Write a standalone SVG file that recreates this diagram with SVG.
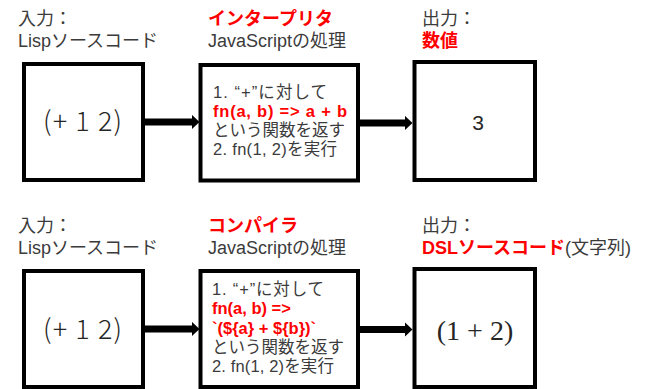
<svg xmlns="http://www.w3.org/2000/svg" width="651" height="389" viewBox="0 0 651 389">
<style>
text{font-family:"Liberation Sans","Noto Sans CJK JP",sans-serif;fill:#3b3b3b}
.lbl{font-size:18px}
.red{fill:#ff0000;font-weight:bold}
.body{font-size:16.5px}
.box{fill:#fff;stroke:#000;stroke-width:4}
.big{font-family:"Noto Sans CJK JP",sans-serif;font-size:27px;font-weight:300;fill:#262626}
.arr{stroke:#000;stroke-width:7;fill:none;marker-end:url(#ah)}
</style>
<defs>
<marker id="ah" markerUnits="userSpaceOnUse" markerWidth="8" markerHeight="15" viewBox="0 0 8 15" refX="0.5" refY="7.5" orient="auto">
<path d="M0,0 L8,7.5 L0,15 z" fill="#000"/>
</marker>
</defs>
<rect width="651" height="389" fill="#fff"/>

<g id="labels-top">
<text class="lbl"><tspan x="18" y="24.5">入力：</tspan><tspan x="18" y="46.5">Lispソースコード</tspan></text>
<text class="lbl"><tspan class="red" x="208" y="24.5">インタープリタ</tspan><tspan x="208" y="46.5">JavaScriptの処理</tspan></text>
<text class="lbl"><tspan x="422" y="24.5">出力：</tspan><tspan class="red" x="422" y="46.5">数値</tspan></text>
</g>

<g id="labels-bottom">
<text class="lbl"><tspan x="18" y="231.5">入力：</tspan><tspan x="18" y="253.5">Lispソースコード</tspan></text>
<text class="lbl"><tspan class="red" x="208" y="231.5">コンパイラ</tspan><tspan x="208" y="253.5">JavaScriptの処理</tspan></text>
<text class="lbl"><tspan x="422" y="231.5">出力：</tspan><tspan class="red" x="422" y="253.5">DSLソースコード</tspan><tspan>(文字列)</tspan></text>
</g>

<g id="connectors">
<path class="arr" d="M145,122 H192"/>
<path class="arr" d="M360,123 H405"/>
<path class="arr" d="M145,329 H192"/>
<path class="arr" d="M360,329.5 H405"/>
</g>

<g id="top-input">
<rect class="box" x="24" y="64" width="119" height="116"/>
<text class="big" x="43" y="131" textLength="79" lengthAdjust="spacing">(+ 1 2)</text>
</g>

<g id="top-interpreter">
<rect class="box" x="200.5" y="65" width="157.5" height="115.5"/>
<text class="body"><tspan x="213" y="98" textLength="114" lengthAdjust="spacing">1. “+”に対して</tspan><tspan class="red" x="213" y="117" textLength="134" lengthAdjust="spacing">fn(a, b) =&gt; a + b</tspan><tspan x="213" y="136">という関数を返す</tspan><tspan x="213" y="155" textLength="124" lengthAdjust="spacing">2. fn(1, 2)を実行</tspan></text>
</g>

<g id="top-output">
<rect class="box" x="414.5" y="62" width="120.5" height="118"/>
<text x="478" y="130" text-anchor="middle" style="font-size:21px;fill:#262626">3</text>
</g>

<g id="bottom-input">
<rect class="box" x="24" y="271" width="119" height="116"/>
<text class="big" x="43" y="338.5" textLength="79" lengthAdjust="spacing">(+ 1 2)</text>
</g>

<g id="bottom-compiler">
<rect class="box" x="200.5" y="271" width="157.5" height="116"/>
<text class="body"><tspan x="212" y="294.5" textLength="112" lengthAdjust="spacing">1. “+”に対して</tspan><tspan class="red" x="212" y="314">fn(a, b) =&gt;</tspan><tspan class="red" x="212" y="333.5">`(${a} + ${b})`</tspan><tspan x="212" y="353">という関数を返す</tspan><tspan x="212" y="372" textLength="122" lengthAdjust="spacing">2. fn(1, 2)を実行</tspan></text>
</g>

<g id="bottom-output">
<rect class="box" x="414.5" y="269" width="120.5" height="118"/>
<text x="475" y="339.5" text-anchor="middle" style="font-family:'Liberation Serif',serif;font-size:28px;fill:#262626">(1 + 2)</text>
</g>
</svg>
